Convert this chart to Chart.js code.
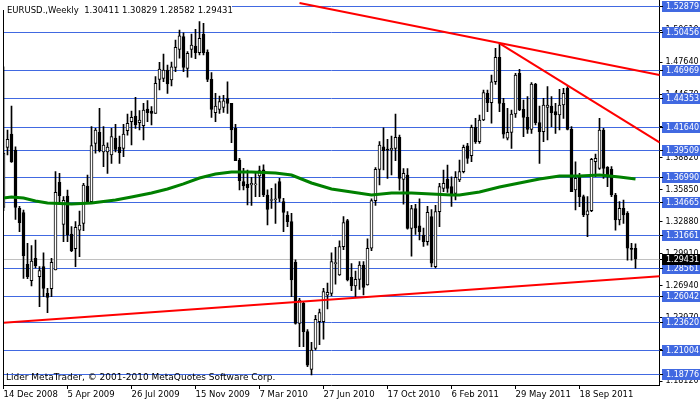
<!DOCTYPE html>
<html>
<head>
<meta charset="utf-8">
<script src="https://cdn.jsdelivr.net/npm/chart.js@4.4.0/dist/chart.umd.min.js"></script>
<style>
  html, body { margin: 0; padding: 0; background: #fff; }
  canvas { display: block; }
</style>
</head>
<body>
<canvas id="myChart" width="700" height="402"></canvas>
<script>
const FONT = "'DejaVu Sans', sans-serif";
const FONT_SIZE = 8;

// weekly bars, first one is the week of 14 Dec 2008; the axis runs on past the last bar
const firstWeek = Date.UTC(2008, 11, 14);
const weekCount = 165;

const openP = [
  1.3421, 1.3977, 1.4101, 1.3952, 1.3412, 1.3372, 1.2893, 1.2742, 1.2949, 1.2779,
  1.2872, 1.2625, 1.2668, 1.2841, 1.3653, 1.3264, 1.3526, 1.3174, 1.3038, 1.3211,
  1.3273, 1.3619, 1.3474, 1.4014, 1.4116, 1.3934, 1.3934, 1.3906, 1.4064, 1.3980,
  1.3968, 1.4131, 1.4215, 1.4267, 1.4206, 1.4178, 1.4332, 1.4314, 1.4292, 1.4607,
  1.4616, 1.4693, 1.4601, 1.4718, 1.4885, 1.5003, 1.4709, 1.4885, 1.4916, 1.4854,
  1.5027, 1.4857, 1.4607, 1.4298, 1.4329, 1.4348, 1.4428, 1.4385, 1.4153, 1.3860,
  1.3659, 1.3634, 1.3628, 1.3630, 1.3712, 1.3768, 1.3536, 1.3485, 1.3492, 1.3659,
  1.3474, 1.3350, 1.3289, 1.2912, 1.2347, 1.2532, 1.2270, 1.1921, 1.2115, 1.2362,
  1.2362, 1.2607, 1.2625, 1.2900, 1.2795, 1.3057, 1.3298, 1.2773, 1.2693, 1.2754,
  1.2887, 1.2702, 1.3042, 1.3483, 1.3773, 1.3983, 1.3962, 1.3952, 1.3968, 1.4070,
  1.3681, 1.3721, 1.3227, 1.3410, 1.3250, 1.3165, 1.3103, 1.3335, 1.2872, 1.3381,
  1.3597, 1.3680, 1.3613, 1.3551, 1.3675, 1.3752, 1.3990, 1.3900, 1.4162, 1.4030,
  1.4230, 1.4477, 1.4391, 1.4585, 1.4811, 1.4384, 1.4061, 1.4116, 1.4286, 1.4663,
  1.4329, 1.4255, 1.4144, 1.4564, 1.4206, 1.4122, 1.4348, 1.4360, 1.4308, 1.4277,
  1.4369, 1.4524, 1.4144, 1.3582, 1.3705, 1.3520, 1.3350, 1.3390, 1.3844, 1.3783,
  1.4138, 1.3792, 1.3773, 1.3536, 1.3304, 1.3412, 1.3366, 1.3042, 1.30411
];
const highP = [
  1.4724, 1.4138, 1.4360, 1.3983, 1.3430, 1.3397, 1.3088, 1.3066, 1.3119, 1.2872,
  1.3001, 1.2671, 1.2949, 1.3752, 1.3736, 1.3520, 1.3582, 1.3242, 1.3289, 1.3387,
  1.3644, 1.3721, 1.4169, 1.4153, 1.4338, 1.4169, 1.4020, 1.4153, 1.4190, 1.4082,
  1.4190, 1.4286, 1.4314, 1.4440, 1.4317, 1.4385, 1.4410, 1.4354, 1.4632, 1.4764,
  1.4842, 1.4740, 1.4768, 1.4971, 1.5064, 1.5039, 1.4864, 1.5027, 1.5070, 1.5141,
  1.5126, 1.4880, 1.4669, 1.4477, 1.4453, 1.4460, 1.4585, 1.4385, 1.4190, 1.3875,
  1.3783, 1.3767, 1.3700, 1.3740, 1.3804, 1.3816, 1.3583, 1.3597, 1.3640, 1.3690,
  1.3505, 1.3381, 1.3366, 1.2934, 1.2578, 1.2547, 1.2290, 1.2170, 1.2420, 1.2480,
  1.2670, 1.2720, 1.3000, 1.3050, 1.3110, 1.3335, 1.3310, 1.2900, 1.2830, 1.2920,
  1.2920, 1.3130, 1.3500, 1.3790, 1.4030, 1.4159, 1.4051, 1.4082, 1.4286, 1.4090,
  1.3780, 1.3780, 1.3440, 1.3450, 1.3500, 1.3230, 1.3430, 1.3400, 1.3440, 1.3644,
  1.3767, 1.3813, 1.3705, 1.3752, 1.3860, 1.3999, 1.4014, 1.4184, 1.4246, 1.4277,
  1.4508, 1.4508, 1.4647, 1.4894, 1.4941, 1.4431, 1.4338, 1.4323, 1.4663, 1.4700,
  1.4416, 1.4447, 1.4576, 1.4570, 1.4360, 1.4431, 1.4539, 1.4447, 1.4384, 1.4514,
  1.4524, 1.4539, 1.4169, 1.3844, 1.3736, 1.3536, 1.3520, 1.3875, 1.3915, 1.4246,
  1.4153, 1.3798, 1.3798, 1.3551, 1.3474, 1.3489, 1.3381, 1.3088, 1.30829
];
const lowP = [
  1.3390, 1.3906, 1.3838, 1.3310, 1.3196, 1.2764, 1.2760, 1.2693, 1.2860, 1.2501,
  1.2594, 1.2446, 1.2594, 1.2841, 1.3450, 1.3103, 1.3103, 1.3011, 1.2872, 1.2964,
  1.3205, 1.3458, 1.3458, 1.3922, 1.3934, 1.3798, 1.3736, 1.3829, 1.3934, 1.3829,
  1.3891, 1.4091, 1.3999, 1.4153, 1.4138, 1.4045, 1.4215, 1.4184, 1.4292, 1.4508,
  1.4585, 1.4477, 1.4545, 1.4678, 1.4802, 1.4678, 1.4626, 1.4811, 1.4799, 1.4833,
  1.4833, 1.4585, 1.4255, 1.4215, 1.4292, 1.4300, 1.4292, 1.4020, 1.3854, 1.3582,
  1.3582, 1.3443, 1.3440, 1.3520, 1.3520, 1.3520, 1.3258, 1.3412, 1.3273, 1.3474,
  1.3196, 1.3242, 1.2594, 1.2340, 1.2131, 1.2131, 1.1945, 1.1868, 1.2100, 1.2150,
  1.2200, 1.2480, 1.2600, 1.2710, 1.2790, 1.3030, 1.2740, 1.2650, 1.2594, 1.2660,
  1.2610, 1.2700, 1.3020, 1.3440, 1.3628, 1.3767, 1.3690, 1.3721, 1.3854, 1.3580,
  1.3450, 1.3220, 1.2970, 1.3170, 1.3120, 1.3060, 1.3070, 1.2870, 1.2860, 1.3242,
  1.3567, 1.3560, 1.3430, 1.3490, 1.3660, 1.3740, 1.3829, 1.3844, 1.4014, 1.4014,
  1.4224, 1.4308, 1.4200, 1.4560, 1.4308, 1.4061, 1.4046, 1.3968, 1.4255, 1.4317,
  1.4076, 1.4107, 1.4107, 1.4184, 1.3829, 1.4030, 1.4046, 1.4169, 1.4107, 1.4138,
  1.4246, 1.4138, 1.3566, 1.3397, 1.3428, 1.3335, 1.3150, 1.3381, 1.3705, 1.3773,
  1.3690, 1.3613, 1.3520, 1.3211, 1.3258, 1.3273, 1.2933, 1.2933, 1.28582
];
const closeP = [
  1.3925, 1.4051, 1.3841, 1.3421, 1.3279, 1.2974, 1.2780, 1.2924, 1.2881, 1.2835,
  1.2671, 1.2588, 1.2912, 1.3560, 1.3529, 1.3486, 1.3165, 1.3020, 1.3236, 1.3258,
  1.3628, 1.3474, 1.3993, 1.4138, 1.3946, 1.3999, 1.3980, 1.4076, 1.3959, 1.3928,
  1.4101, 1.4200, 1.4255, 1.4184, 1.4230, 1.4323, 1.4298, 1.4292, 1.4570, 1.4703,
  1.4693, 1.4564, 1.4724, 1.4904, 1.5009, 1.4718, 1.4848, 1.4925, 1.4854, 1.4987,
  1.4854, 1.4607, 1.4329, 1.4360, 1.4400, 1.4409, 1.4385, 1.4138, 1.3854, 1.3669,
  1.3619, 1.3604, 1.3644, 1.3635, 1.3761, 1.3536, 1.3403, 1.3492, 1.3498, 1.3505,
  1.3375, 1.3289, 1.2748, 1.2347, 1.2563, 1.2270, 1.1960, 1.2100, 1.2384, 1.2446,
  1.2640, 1.2634, 1.2918, 1.2905, 1.3057, 1.3279, 1.2748, 1.2693, 1.2754, 1.2887,
  1.2680, 1.3042, 1.3483, 1.3773, 1.3999, 1.3946, 1.3952, 1.3968, 1.4070, 1.3690,
  1.3736, 1.3227, 1.3410, 1.3230, 1.3196, 1.3103, 1.3375, 1.2903, 1.3381, 1.3613,
  1.3644, 1.3597, 1.3536, 1.3699, 1.3752, 1.3977, 1.3875, 1.4162, 1.4030, 1.4230,
  1.4484, 1.4391, 1.4585, 1.4811, 1.4384, 1.4100, 1.4116, 1.4286, 1.4647, 1.4323,
  1.4255, 1.4144, 1.4564, 1.4206, 1.4122, 1.4369, 1.4369, 1.4298, 1.4277, 1.4369,
  1.4477, 1.4144, 1.3566, 1.3690, 1.3520, 1.3350, 1.3390, 1.3866, 1.3875, 1.4138,
  1.3783, 1.3705, 1.3536, 1.3304, 1.3412, 1.3350, 1.3042, 1.3032, 1.29431
];

// moving average at these bars (bar index, price)
const maReadings = [
  [0, 1.3508], [2, 1.3517], [5, 1.3508], [8, 1.3480], [11, 1.3461], [17, 1.3452],
  [22, 1.3461], [24, 1.3471], [28, 1.3489], [32, 1.3517], [37, 1.3554], [41, 1.3591],
  [45, 1.3638], [49, 1.3693], [53, 1.3730], [57, 1.3749], [62, 1.3749], [68, 1.3739],
  [72, 1.3721], [77, 1.3647], [82, 1.3591], [87, 1.3563], [92, 1.3536], [97, 1.3554],
  [102, 1.3554], [107, 1.3545], [112, 1.3536], [114, 1.3536], [119, 1.3563], [124, 1.3610],
  [129, 1.3647], [134, 1.3684], [139, 1.3712], [144, 1.3712], [149, 1.3721], [154, 1.3702],
  [158, 1.3684]
];

// trend lines: [start bar, start price, end bar, end price]
const trendLines = [
  [0, 1.2353, 164, 1.2783],
  [74, 1.5315, 164, 1.4647],
  [124, 1.4941, 164, 1.4023]
];

const levelLines = [1.52879, 1.50456, 1.46969, 1.44353, 1.41640, 1.39509, 1.36990,
  1.34665, 1.31661, 1.28561, 1.26042, 1.23620, 1.21004, 1.18776];
const bidPrice = 1.29431;

const yTicks = [1.18120, 1.21000, 1.23970, 1.26940, 1.29910, 1.32880, 1.35850,
  1.38820, 1.41700, 1.44670, 1.47640, 1.50610];
const xTickLabels = ["14 Dec 2008", "5 Apr 2009", "26 Jul 2009", "15 Nov 2009", "7 Mar 2010",
  "27 Jun 2010", "17 Oct 2010", "6 Feb 2011", "29 May 2011", "18 Sep 2011"];

const headerText = "EURUSD.,Weekly  1.30411 1.30829 1.28582 1.29431";
const footerText = "Lider MetaTrader, \u00A9 2001-2010 MetaQuotes Software Corp.";

const MONTHS = ["Jan","Feb","Mar","Apr","May","Jun","Jul","Aug","Sep","Oct","Nov","Dec"];
const weeks = [];
for (let i = 0; i < weekCount; i++) {
  const d = new Date(firstWeek + i * 7 * 86400000);
  weeks.push(d.getUTCDate() + " " + MONTHS[d.getUTCMonth()] + " " + d.getUTCFullYear());
}
const xTickIndex = xTickLabels.map(l => weeks.indexOf(l));

const maLine = new Array(weekCount).fill(null);
maReadings.forEach(([i, v]) => { maLine[i] = v; });

const trendData = trendLines.map(([i0, p0, i1, p1]) => {
  const arr = new Array(weekCount).fill(null);
  arr[i0] = p0;
  arr[i1] = p1;
  return arr;
});

const BLUE = "#4169E1";

const overlay = {
  id: "overlay",
  beforeDatasetsDraw(chart) {
    const { ctx, chartArea: a, scales: { y } } = chart;
    ctx.save();
    ctx.lineWidth = 1;
    ctx.strokeStyle = "#C0C0C0";
    let py = Math.round(y.getPixelForValue(bidPrice)) + 0.5;
    ctx.beginPath(); ctx.moveTo(a.left, py); ctx.lineTo(a.right, py); ctx.stroke();
    ctx.strokeStyle = BLUE;
    levelLines.forEach(v => {
      py = Math.round(y.getPixelForValue(v)) + 0.5;
      ctx.beginPath(); ctx.moveTo(a.left, py); ctx.lineTo(a.right, py); ctx.stroke();
    });
    ctx.restore();
  },
  afterDraw(chart) {
    const { ctx, chartArea: a, scales: { y } } = chart;
    ctx.save();
    // left frame
    ctx.strokeStyle = "#000";
    ctx.lineWidth = 1;
    ctx.beginPath(); ctx.moveTo(3.5, 10); ctx.lineTo(3.5, a.bottom); ctx.stroke();

    ctx.font = "8px " + FONT;
    ctx.textBaseline = "middle";
    const drawBox = (v, bg) => {
      const py = Math.round(y.getPixelForValue(v));
      ctx.fillStyle = bg;
      ctx.fillRect(662, py - 5, 38, 11);
      ctx.fillStyle = "#000";
      ctx.fillRect(660, py, 3, 1);
      ctx.fillStyle = "#fff";
      ctx.fillText(v.toFixed(5), 666, py + 0.5);
    };
    levelLines.forEach(v => drawBox(v, BLUE));
    drawBox(bidPrice, "#000");

    // header and copyright
    ctx.fillStyle = "#fff";
    ctx.fillRect(0, 0, 232, 10);
    ctx.fillStyle = "#000";
    ctx.textBaseline = "alphabetic";
    ctx.font = "8.5px " + FONT;
    ctx.fillText(headerText, 7, 13);
    ctx.font = "9px " + FONT;
    ctx.fillText(footerText, 6, 380);
    ctx.restore();
  }
};

Chart.defaults.font.family = FONT;
Chart.defaults.font.size = FONT_SIZE;
Chart.defaults.color = "#000";

new Chart("myChart", {
  type: "bar",
  data: {
    labels: weeks,
    datasets: [
      ...trendData.map(d => ({
        type: "line",
        data: d,
        borderColor: "#FF0000",
        borderWidth: 2,
        pointRadius: 0,
        spanGaps: true,
        order: 0
      })),
      {
        type: "line",
        data: maLine,
        borderColor: "#008000",
        borderWidth: 3,
        pointRadius: 0,
        spanGaps: true,
        order: 1
      },
      {
        data: openP.map((o, i) => [o, closeP[i]]),
        backgroundColor: openP.map((o, i) => closeP[i] >= o ? "#fff" : "#000"),
        borderColor: "#000",
        borderWidth: 1,
        borderSkipped: false,
        barThickness: 3,
        minBarLength: 1,
        grouped: false,
        order: 2
      },
      {
        data: lowP.map((l, i) => [l, highP[i]]),
        backgroundColor: "#000",
        borderWidth: 0,
        barThickness: 1,
        grouped: false,
        order: 3
      }
    ]
  },
  options: {
    responsive: false,
    animation: false,
    layout: { padding: { left: 3.5, top: 0, right: 0, bottom: 0 } },
    plugins: { legend: { display: false }, tooltip: { enabled: false } },
    scales: {
      x: {
        type: "category",
        offset: false,
        grid: { drawOnChartArea: false, offset: false, tickLength: 4, color: "#000" },
        border: { display: true, color: "#000" },
        ticks: { autoSkip: false, maxRotation: 0, align: "start", padding: 1, font: { size: 8.5 } },
        afterBuildTicks: s => { s.ticks = xTickIndex.map(i => ({ value: i })); },
        afterFit: s => { s.height = 17; s.paddingLeft = 0; s.paddingRight = 0; }
      },
      y: {
        position: "right",
        min: 1.17756,
        max: 1.53420,
        grid: { drawOnChartArea: false, tickLength: 3, color: "#000" },
        border: { display: true, color: "#000" },
        ticks: { autoSkip: false, padding: 3, callback: v => v.toFixed(5) },
        afterBuildTicks: s => { s.ticks = yTicks.map(v => ({ value: v })); },
        afterFit: s => { s.width = 40.5; s.paddingTop = 0; s.paddingBottom = 0; }
      }
    }
  },
  plugins: [overlay]
});
</script>
</body>
</html>
